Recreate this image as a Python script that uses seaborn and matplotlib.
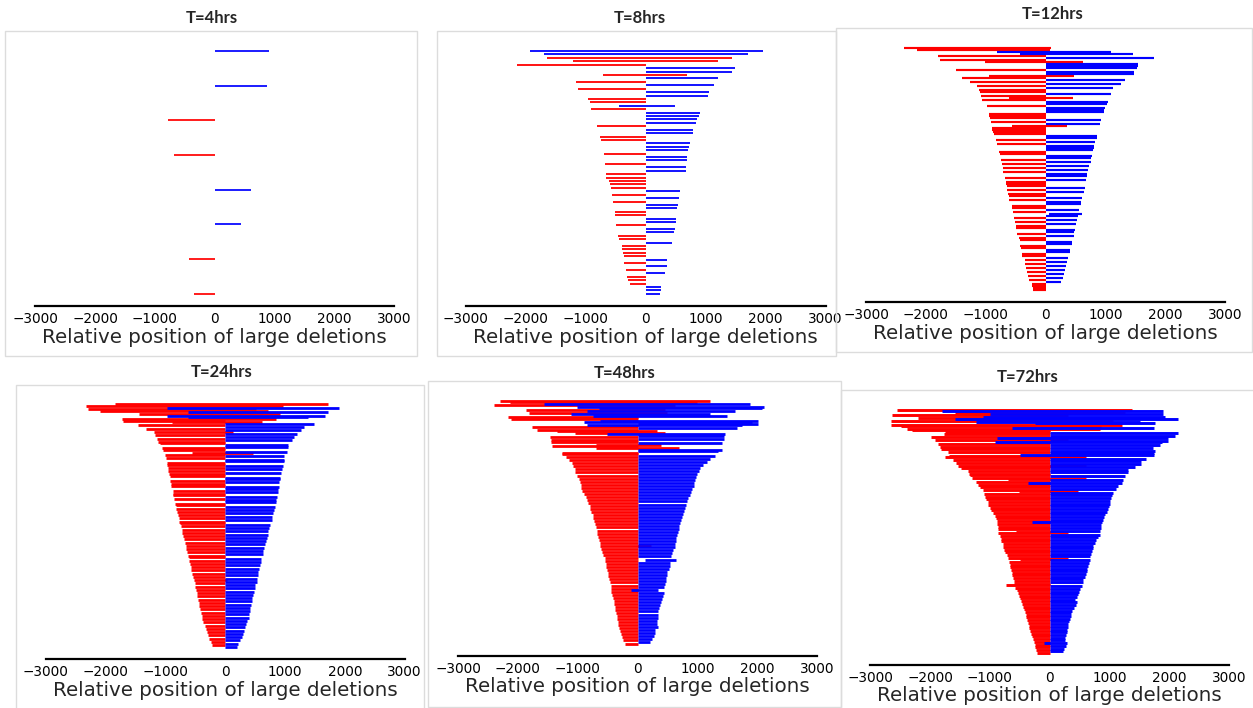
import pandas as pd
import seaborn as sns
import matplotlib.pyplot as plt
from matplotlib.patches import Rectangle

# ---------------------------------------------------------------------------
# Data: each deletion is (start, end) relative to the cut site; rows are
# ordered from the longest deletion (top) to the shortest (bottom).
# ---------------------------------------------------------------------------
panel_titles = ["T=4hrs", "T=8hrs", "T=12hrs", "T=24hrs", "T=48hrs", "T=72hrs"]
x_ticks = [-3000, -2000, -1000, 0, 1000, 2000, 3000]
x_label = "Relative position of large deletions"

t4_deletions = [(0, 900), (0, 870), (-775, 0), (-685, 0), (0, 600), (0, 445),
                (-430, 0), (-355, 0)]

t8_deletions = [
    (-1930, 1950), (-1690, 1710), (-1640, 1430), (-1220, 1210), (-2140, 0),
    (0, 1480), (0, 1440), (-710, 690), (0, 1210), (-1160, 0), (0, 1140),
    (-1130, 0), (0, 1060), (0, 1040), (-970, 10), (-930, 0), (-440, 480),
    (-910, 0), (0, 910), (0, 880), (0, 860), (0, 840), (-820, 0), (0, 790),
    (0, 780), (-770, 0), (-750, 0), (0, 730), (0, 720), (0, 710), (-700, 0),
    (0, 690), (0, 690), (-680, 0), (0, 670), (0, 670), (-670, 0), (-660, 0),
    (-620, 0), (-600, 0), (-580, 0), (0, 570), (-570, 0), (0, 560), (-540, 0),
    (0, 530), (0, 520), (-520, 0), (-510, 0), (0, 510), (0, 500), (-490, 0),
    (0, 480), (0, 470), (-470, 0), (-440, 0), (0, 430), (-400, 0), (-390, 0),
    (-380, 0), (-370, 0), (0, 360), (-360, 0), (0, 350), (-330, 0), (0, 320),
    (-310, 0), (-300, 0), (-270, 0), (0, 260), (0, 250), (0, 230)]

t12_deletions = [
    (-2370, 90), (-2150, 70), (-820, 1090), (-420, 1460), (-1790, 0),
    (0, 1810), (-1760, 0), (-1020, 630), (0, 1550), (0, 1540), (0, 1530),
    (-1500, 0), (0, 1480), (0, 1470), (-940, 480), (-1390, 0), (0, 1330),
    (-1270, 0), (0, 1260), (-1140, 0), (0, 1120), (-1120, 0), (-1100, 0),
    (0, 1090), (-1080, 0), (-620, 450), (-1060, 0), (0, 1040), (0, 1020),
    (-980, 0), (0, 990), (0, 980), (0, 970), (-950, 0), (-940, 0), (-930, 0),
    (0, 930), (-920, 0), (0, 910), (-560, 350), (-900, 0), (-890, 0),
    (-880, 0), (-870, 0), (0, 860), (0, 850), (-830, 0), (0, 830), (-820, 0),
    (0, 810), (0, 800), (0, 790), (-780, 0), (-770, 0), (0, 770), (0, 765),
    (-750, 0), (0, 750), (-730, 0), (0, 720), (-720, 0), (0, 700), (-710, 0),
    (0, 690), (0, 690), (-680, 0), (0, 670), (-660, 0), (-655, 0), (-650, 0),
    (0, 655), (-640, 0), (0, 635), (-625, 0), (-620, 0), (0, 605), (-605, 0),
    (0, 590), (0, 585), (-570, 0), (-565, 0), (0, 560), (-550, 0), (60, 600),
    (0, 545), (-530, 0), (0, 530), (-510, 0), (0, 510), (-500, 0), (-495, 0),
    (0, 485), (0, 480), (-475, 0), (0, 470), (-440, 0), (-435, 0), (0, 440),
    (0, 435), (-420, 0), (-415, 0), (0, 410), (0, 405), (-395, 0), (-390, 0),
    (0, 380), (-350, 0), (0, 350), (-340, 0), (0, 335), (-330, 0), (0, 325),
    (-310, 0), (0, 305), (-300, 0), (0, 285), (-275, 0), (0, 255), (-230, 0),
    (-225, 0), (-210, 0), (-205, 0)]

t24_deletions = [
    (-1850, 1720), (-2330, 970), (-980, 1900), (-2300, 520), (-2100, 720),
    (-630, 1720), (-1440, 910), (-980, 1660), (-620, 1390), (-1720, 850),
    (-1700, 0), (-890, 620), (0, 1490), (-1460, 0), (0, 1320), (-1320, 0),
    (0, 1260), (-1190, 130), (0, 1200), (-1180, 0), (0, 1150), (-1140, 0),
    (0, 1120), (-1120, 0), (-1090, 0), (0, 1050), (0, 1045), (-1060, 0),
    (-1040, 0), (0, 1040), (-550, 470), (-1000, 0), (0, 990), (-990, 0),
    (0, 980), (0, 975), (-980, 0), (-970, 0), (0, 960), (-960, 0), (0, 950),
    (-950, 0), (0, 940), (-940, 0), (-930, 0), (0, 920), (0, 915), (-920, 0),
    (0, 905), (-910, 0), (-900, 0), (0, 895), (0, 890), (-880, 0), (0, 880),
    (-870, 0), (-865, 0), (0, 860), (-855, 0), (0, 850), (0, 845), (-840, 0),
    (-830, 0), (0, 825), (-820, 0), (0, 810), (-805, 0), (0, 800), (-795, 0),
    (0, 790), (-780, 0), (0, 775), (-770, 0), (-760, 0), (0, 750), (-745, 0),
    (0, 735), (-730, 0), (0, 720), (-715, 0), (0, 710), (-700, 0), (0, 695),
    (-690, 0), (0, 680), (-675, 0), (0, 665), (-660, 0), (0, 655), (-650, 0),
    (0, 640), (-635, 0), (0, 630), (-620, 0), (-610, 0), (0, 600), (-600, 0),
    (0, 590), (-590, 0), (0, 580), (-575, 0), (0, 565), (-565, 0), (0, 555),
    (-550, 0), (0, 545), (-540, 0), (0, 530), (-520, 30), (0, 525), (-510, 0),
    (0, 505), (-500, 0), (0, 490), (-485, 0), (0, 480), (-475, 0), (0, 470),
    (-465, 0), (0, 455), (-450, 0), (0, 445), (-440, 0), (0, 430), (-430, 0),
    (0, 420), (-420, 0), (0, 410), (-405, 0), (0, 400), (-395, 0), (0, 390),
    (-380, 0), (0, 370), (-365, 0), (0, 350), (-345, 0), (0, 330), (-325, 0),
    (0, 315), (-300, 0), (0, 300), (-290, 0), (0, 280), (-265, 0), (0, 250),
    (-245, 0), (0, 220), (-215, 0), (0, 205)]

t48_deletions = [
    (-2300, 1210), (-2130, 990), (-1570, 1880), (-2390, 630), (-1010, 2110),
    (-650, 2080), (-1860, 460), (-850, 1630), (-1820, 490), (-1110, 1210),
    (-740, 1490), (-2160, 0), (-2120, 0), (-620, 2020), (-900, 1910),
    (0, 2020), (-840, 1740), (-1770, 0), (0, 1670), (-1680, 0), (-1350, 320),
    (-1050, 460), (-510, 1460), (0, 1450), (-1460, 0), (0, 1440), (-1450, 0),
    (-1440, 0), (0, 1420), (-690, 400), (-1430, 0), (-700, 690), (0, 1410),
    (0, 1350), (-1270, 0), (-1260, 0), (0, 1300), (-1200, 0), (0, 1210),
    (-1140, 0), (0, 1160), (-1100, 0), (0, 1100), (-1070, 0), (0, 1050),
    (-1050, 0), (0, 1020), (-1040, 0), (0, 1000), (-1010, 0), (0, 980),
    (-975, 0), (0, 965), (-960, 0), (0, 950), (-950, 0), (0, 936), (-940, 0),
    (0, 915), (-930, 0), (0, 900), (-900, 0), (0, 875), (-865, 0), (0, 850),
    (-845, 0), (0, 830), (-820, 0), (0, 810), (-800, 0), (0, 795), (-790, 0),
    (0, 780), (-770, 0), (0, 760), (-750, 0), (0, 745), (-740, 0), (0, 730),
    (-725, 0), (0, 715), (-710, 0), (0, 700), (-690, 0), (0, 690), (-680, 0),
    (0, 675), (-670, 0), (0, 660), (-655, 0), (0, 650), (-645, 0), (0, 640),
    (-630, 0), (0, 630), (-620, 230), (0, 620), (-610, 0), (0, 600), (-590, 0),
    (0, 580), (-570, 0), (0, 560), (-550, 0), (130, 640), (-540, 0), (0, 545),
    (-530, 0), (0, 535), (-520, 0), (0, 520), (-510, 0), (0, 500), (-495, 0),
    (0, 485), (-485, 0), (0, 475), (-475, 0), (0, 470), (-460, 0), (0, 460),
    (-450, 0), (0, 450), (-440, 0), (-110, 350), (-435, 0), (0, 435),
    (-425, 0), (0, 420), (-410, 0), (0, 410), (-400, 0), (0, 395), (-390, 0),
    (0, 380), (-380, 0), (0, 360), (-370, 0), (0, 350), (-360, 0), (0, 340),
    (-350, 0), (0, 335), (-340, 0), (0, 330), (-330, 0), (0, 320), (-320, 0),
    (0, 350), (-305, 0), (0, 300), (-290, 0), (0, 295), (-270, 0), (0, 280),
    (-260, 0), (0, 240), (-240, 0), (0, 215), (-205, 0)]

t72_deletions = [
    (-2560, 1380), (-1800, 1890), (-1590, 1250), (-1000, 1900), (-2630, 310),
    (-1110, 1920), (-2200, 700), (-1590, 2150), (-2650, 1060), (-1230, 1500),
    (-250, 1750), (-2650, 1200), (-2480, 860), (-640, 1740), (-2380, 840),
    (-2310, 0), (-1750, 0), (0, 2150), (-1760, 0), (0, 2100), (-1980, 0),
    (-880, 1970), (-1920, 310), (0, 1980), (-920, 1870), (-1870, 0),
    (0, 1840), (-1840, 0), (0, 1730), (-1820, 0), (0, 1750), (-1700, 0),
    (0, 1740), (-500, 1740), (-1680, 0), (-1750, 610), (0, 1600), (-1620, 0),
    (0, 1530), (-1560, 0), (0, 1530), (-1530, 610), (0, 1420), (-1480, 0),
    (0, 1310), (-1370, 0), (0, 1310), (-1350, 0), (-1340, 0), (0, 1250),
    (-1300, 0), (-700, 610), (0, 1230), (-1230, 0), (-360, 1200), (-1200, 0),
    (0, 1140), (-1160, 0), (0, 1100), (-1110, 0), (-520, 470), (0, 1060),
    (-1100, 0), (0, 1040), (-1090, 0), (0, 1030), (-1060, 0), (0, 1010),
    (-1040, 0), (0, 1000), (-1030, 0), (0, 990), (-1000, 0), (0, 970),
    (-975, 0), (0, 950), (-950, 0), (0, 930), (-920, 0), (0, 910), (-905, 0),
    (0, 890), (-890, 0), (-300, 865), (-880, 0), (0, 860), (-870, 0),
    (0, 850), (-865, 0), (0, 840), (-560, 300), (-860, 0), (0, 835),
    (-840, 0), (0, 800), (-820, 0), (0, 780), (-810, 0), (0, 760), (-790, 0),
    (0, 725), (-780, 0), (0, 720), (-760, 0), (0, 700), (-750, 0), (0, 695),
    (-720, 0), (0, 680), (-700, 0), (-500, 300), (0, 670), (-690, 0),
    (0, 655), (-670, 0), (0, 640), (-660, 0), (0, 630), (-650, 0), (0, 615),
    (-640, 0), (0, 600), (-630, 0), (0, 590), (-615, 0), (0, 560), (-600, 0),
    (0, 550), (-590, 0), (-725, 0), (0, 530), (-575, 0), (0, 510), (-550, 0),
    (0, 490), (-530, 0), (0, 475), (-510, 0), (0, 450), (-490, 0), (0, 420),
    (-475, 0), (0, 450), (-460, 0), (0, 440), (-445, 0), (0, 400), (-430, 0),
    (0, 375), (-420, 0), (0, 360), (-405, 0), (0, 350), (-390, 0), (0, 335),
    (-375, 0), (0, 320), (-360, 0), (0, 305), (-350, 0), (0, 300), (-340, 0),
    (0, 295), (-335, 0), (0, 290), (-320, 0), (0, 270), (-300, 0), (0, 255),
    (-280, 0), (0, 250), (-265, 0), (-100, 280), (-250, 0), (0, 275),
    (-240, 0), (0, 240), (-230, 0), (0, 220), (-220, 0)]

panel_data = [t4_deletions, t8_deletions, t12_deletions,
              t24_deletions, t48_deletions, t72_deletions]

# ---------------------------------------------------------------------------
# Layout (pixels on a 1253 x 708 canvas)
# ---------------------------------------------------------------------------
W, H = 1253, 708
sns.set_style("white")
plt.rcParams["font.family"] = ["DejaVu Sans"]

fig = plt.figure(figsize=(W / 100, H / 100), dpi=100)
fig.patch.set_facecolor("white")

# axes boxes: (left, top, width, height)
axes_px = [(35.3, 38.9, 359.0, 267.1), (465.7, 38.9, 360.0, 267.1),
           (866.0, 35.6, 359.3, 266.6), (45.7, 392.2, 359.0, 266.8),
           (458.0, 388.5, 359.0, 267.2), (870.3, 397.8, 359.0, 267.0)]
# light frames around each panel: (left, top, width, height)
frames_px = [(5, 31, 412, 325), (437, 31, 399, 325), (836, 28, 416, 324),
             (16, 385, 408, 330), (428, 381, 413, 326), (841, 390, 420, 330)]
# title centres: (x, y)
titles_px = [(212, 18), (640, 18), (1053, 14), (222, 372), (625, 373),
             (1028, 377)]
# line widths: sparse panels thinner, dense panels fill in
line_widths = [1.25, 1.3, 1.55, 2.0, 2.0, 2.1]

for (fx, fy, fw, fh) in frames_px:
    fig.add_artist(Rectangle((fx / W, 1 - (fy + fh) / H), fw / W, fh / H,
                             transform=fig.transFigure, fill=False,
                             edgecolor="#dcdcdc", linewidth=1.0))

palette = {"left": "#ff0000", "right": "#0000ff"}

for k, deletions in enumerate(panel_data):
    lx, ty, w, h = axes_px[k]
    ax = fig.add_axes([lx / W, 1 - (ty + h) / H, w / W, h / H])
    ax.set_facecolor("none")

    records = []
    for i, (start, end) in enumerate(deletions):
        side = "left" if start + end < 0 else "right"
        records.append({"row": i, "pos": start, "side": side})
        records.append({"row": i, "pos": end, "side": side})
    df = pd.DataFrame(records)

    sns.lineplot(data=df, x="pos", y="row", units="row", estimator=None,
                 sort=False, hue="side", hue_order=["left", "right"],
                 palette=palette, linewidth=line_widths[k], legend=False,
                 ax=ax, solid_capstyle="butt")

    n = len(deletions)
    pad = 0.05 * (n - 1)
    ax.set_ylim(n - 1 + pad, -pad)
    ax.set_xlim(-3000, 3000)
    ax.set_xticks(x_ticks)
    ax.set_yticks([])
    ax.set_ylabel("")
    ax.set_xlabel(x_label, fontsize=14.3, labelpad=1)
    for s in ("left", "top", "right"):
        ax.spines[s].set_visible(False)
    ax.spines["bottom"].set_color("black")
    ax.spines["bottom"].set_linewidth(1.6)
    ax.tick_params(axis="x", direction="inout", length=5, width=1.3,
                   labelsize=9.8, pad=2, colors="black")

    cx, cy = titles_px[k]
    fig.text(cx / W, 1 - cy / H, panel_titles[k], ha="center", va="center",
             fontsize=12, fontweight="bold", family=["Lato", "DejaVu Sans"])

fig.savefig("out.png", dpi=100, facecolor="white")
